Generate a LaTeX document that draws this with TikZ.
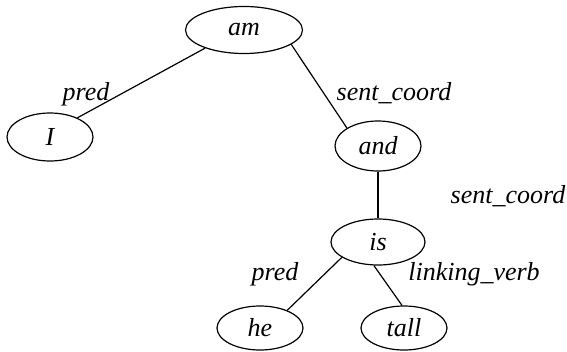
\documentclass[tikz,border=0pt]{standalone}
\usepackage{fontspec}
\setmainfont{Liberation Serif}
\usetikzlibrary{shapes.geometric}

\begin{document}
\begin{tikzpicture}[x=1pt,y=-1pt,
    word/.style={ellipse,draw,line width=1.2pt,inner sep=0pt,
      font=\fontsize{26}{30}\selectfont\itshape},
    rel/.style={inner sep=0pt,font=\fontsize{26}{30}\selectfont\itshape},
    arc/.style={line width=1.2pt}]
  \useasboundingbox (0,0) rectangle (567,351);

  % words
  \node[word,minimum width=117pt,minimum height=47pt] (am)   at (244,30)  {am};
  \node[word,minimum width=86pt,minimum height=48pt]  (i)    at (50,137)  {I};
  \node[word,minimum width=86pt,minimum height=50pt]  (and)  at (378,146) {and};
  \node[word,minimum width=94pt,minimum height=46pt]  (is)   at (378,242) {is};
  \node[word,minimum width=86pt,minimum height=44pt]  (he)   at (260,328) {he};
  \node[word,minimum width=86pt,minimum height=44pt]  (tall) at (404,328) {tall};

  % relations
  \draw[arc] (am.205)  -- (i.35);
  \draw[arc] (am.-17)  -- (and.150);
  \draw[arc] (and.south) -- (is.north);
  \draw[arc] (is.203)  -- (he.33);
  \draw[arc] (is.-100) -- (tall.95);

  % labels
  \node[rel] (predI)    at (86,94)   {pred};
  \node[rel] (coordAnd) at (394,93)  {sent\_coord};
  \node[rel] (coordIs)  at (508,196) {sent\_coord};
  \node[rel] (predHe)   at (275,274) {pred};
  \node[rel] (linkTall) at (474,274) {linking\_verb};
\end{tikzpicture}
\end{document}
